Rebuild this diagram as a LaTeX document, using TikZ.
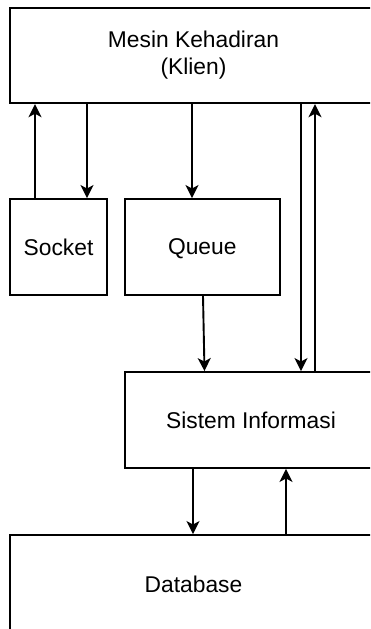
\documentclass[tikz,border=0pt]{standalone}
\usepackage{fontspec}
\setmainfont{Liberation Sans}
\usetikzlibrary{arrows.meta}

\tikzset{
  block/.style={draw=black, line width=1.9pt, fill=white, inner sep=0pt,
    align=center, font=\fontsize{22.8}{27}\selectfont},
  flow/.style={draw=black, line width=1.9pt,
    -{Stealth[length=13pt, width=13pt, inset=3.5pt]}},
}

\begin{document}
\begin{tikzpicture}[x=1pt, y=-1pt]
  \useasboundingbox (0,0) rectangle (370,629);
  \clip (0,0) rectangle (370,629);
  \fill[white] (0,0) rectangle (370,629);

  % components
  \node[block, minimum width=367pt, minimum height=95.5pt] (mesin) at (193.5,55.5)
    {Mesin Kehadiran\\(Klien)};
  \node[block, minimum width=97pt, minimum height=96pt] (socket) at (58.5,247) {Socket};
  \node[block, minimum width=154.5pt, minimum height=96pt, text depth=0pt] (queue) at (202.3,247) {Queue};
  \node[block, minimum width=252pt, minimum height=96pt] (si) at (251,420) {Sistem Informasi};
  \node[block, minimum width=367pt, minimum height=98pt] (db) at (193.5,584) {Database};

  % connector columns
  \coordinate (x1) at (35,0);
  \coordinate (x2) at (87,0);
  \coordinate (x3) at (192,0);
  \coordinate (x4a) at (203,0);
  \coordinate (x4b) at (204.5,0);
  \coordinate (x5) at (301,0);
  \coordinate (x6) at (315,0);
  \coordinate (x7) at (193,0);
  \coordinate (x8) at (286,0);

  % client <-> socket / queue
  \draw[flow] (x1 |- socket.north) -- (x1 |- mesin.south);
  \draw[flow] (x2 |- mesin.south) -- (x2 |- socket.north);
  \draw[flow] (x3 |- mesin.south) -- (x3 |- queue.north);

  % queue -> information system
  \draw[flow] (x4a |- queue.south) -- (x4b |- si.north);

  % client <-> information system
  \draw[flow] (x5 |- mesin.south) -- (x5 |- si.north);
  \draw[flow] (x6 |- si.north) -- (x6 |- mesin.south);

  % information system <-> database
  \draw[flow] (x7 |- si.south) -- (x7 |- db.north);
  \draw[flow] (x8 |- db.north) -- (x8 |- si.south);
\end{tikzpicture}
\end{document}
